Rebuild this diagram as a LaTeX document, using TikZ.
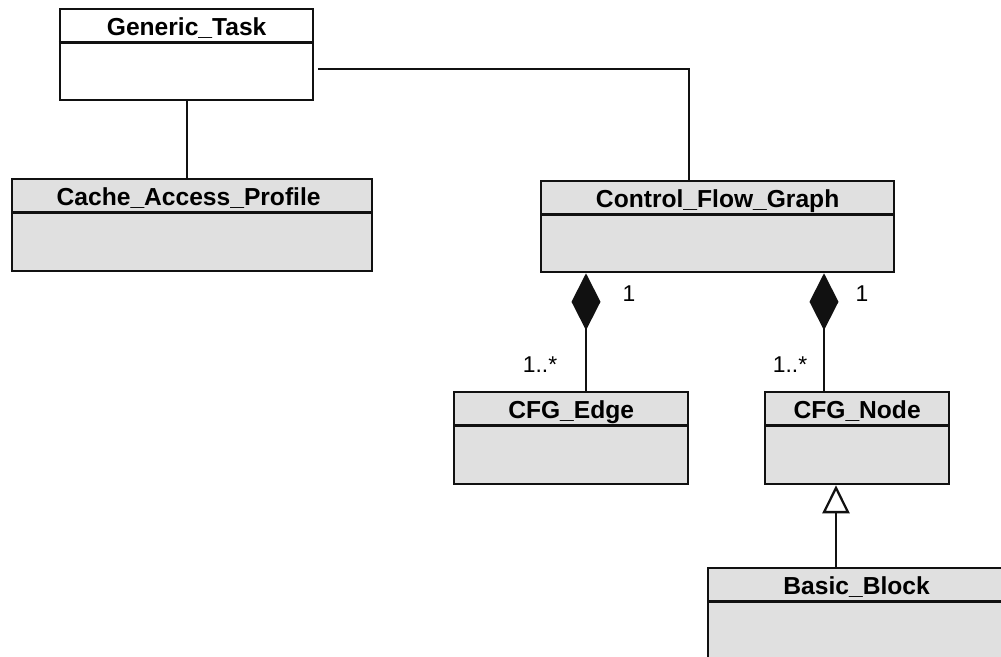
\documentclass[tikz,border=0pt]{standalone}
\usepackage{fontspec}
\setmainfont{Liberation Sans}
\usetikzlibrary{arrows.meta,positioning,calc}
\definecolor{boxgray}{HTML}{E0E0E0}
\definecolor{ink}{HTML}{111111}

\begin{document}
\begin{tikzpicture}[
  font=\fontsize{13}{15}\selectfont,
  line width=1.3pt,
  cls/.style={draw=ink,fill=boxgray,anchor=north west,inner sep=0pt},
  ttl/.style={font=\fontsize{14}{16}\selectfont\bfseries,anchor=base,inner sep=0pt},
  mult/.style={inner sep=1pt},
  comp/.style={draw=ink,-{Diamond[length=1.14cm,width=0.58cm]}},
  inh/.style={draw=ink,-{Triangle[open,length=0.56cm,width=0.54cm,fill=white]}}
]
\useasboundingbox (0,0) rectangle (20.02,-13.14);
\clip (0,0) rectangle (20.02,-13.14);
% --- classes -------------------------------------------------------------
\node[cls,fill=white,minimum width=5.06cm,minimum height=1.82cm] (gt) at (1.18,-0.16) {};
\node[cls,minimum width=7.2cm,minimum height=1.84cm] (cap) at (0.22,-3.56) {};
\node[cls,minimum width=7.06cm,minimum height=1.82cm] (cfg) at (10.8,-3.6) {};
\node[cls,minimum width=4.68cm,minimum height=1.84cm] (edge) at (9.06,-7.82) {};
\node[cls,minimum width=3.68cm,minimum height=1.84cm] (cnode) at (15.28,-7.82) {};
\node[cls,minimum width=5.94cm,minimum height=2.2cm] (bb) at (14.14,-11.34) {};
\foreach \c in {gt,cap,cfg,edge,cnode,bb}{
  \draw[ink,line width=1.3pt] ($(\c.north west)+(0,-0.69)$) -- ($(\c.north east)+(0,-0.69)$);}
\node[ttl] (gt-t) at ($(gt.north)+(0,-0.56)$) {Generic\_Task};
\node[ttl] (cap-t) at ($(cap.north)+(-0.07,-0.55)$) {Cache\_Access\_Profile};
\node[ttl] (cfg-t) at ($(cfg.north)+(0,-0.55)$) {Control\_Flow\_Graph};
\node[ttl] (edge-t) at ($(edge.north)+(0,-0.55)$) {CFG\_Edge};
\node[ttl] (cnode-t) at ($(cnode.north)+(0,-0.55)$) {CFG\_Node};
\node[ttl] (bb-t) at ($(bb.north)+(0,-0.55)$) {Basic\_Block};
% --- associations --------------------------------------------------------
\coordinate (gt-r) at ($(gt.east)+(0.08,-0.29)$);
\coordinate (cfg-top) at ($(cfg.north west)+(2.98,0)$);
\draw[ink] (gt.south) -- (gt.south |- cap.north);
\draw[ink] (gt-r) -| (cfg-top);
% --- composition ---------------------------------------------------------
\coordinate (e-top) at ($(edge.north west)+(2.66,0)$);
\coordinate (n-top) at ($(cnode.north west)+(1.2,0)$);
\draw[comp] (e-top) -- (e-top |- cfg.south);
\draw[comp] (n-top) -- (n-top |- cfg.south);
\node[mult] (m1) at (12.58,-5.88) {1};
\node[mult] (m2) at (10.8,-7.3) {1..*};
\node[mult] (m3) at (17.24,-5.88) {1};
\node[mult] (m4) at (15.8,-7.3) {1..*};
% --- generalisation ------------------------------------------------------
\coordinate (bb-top) at ($(bb.north west)+(2.58,0)$);
\draw[inh] (bb-top) -- (bb-top |- cnode.south);
\end{tikzpicture}
\end{document}
